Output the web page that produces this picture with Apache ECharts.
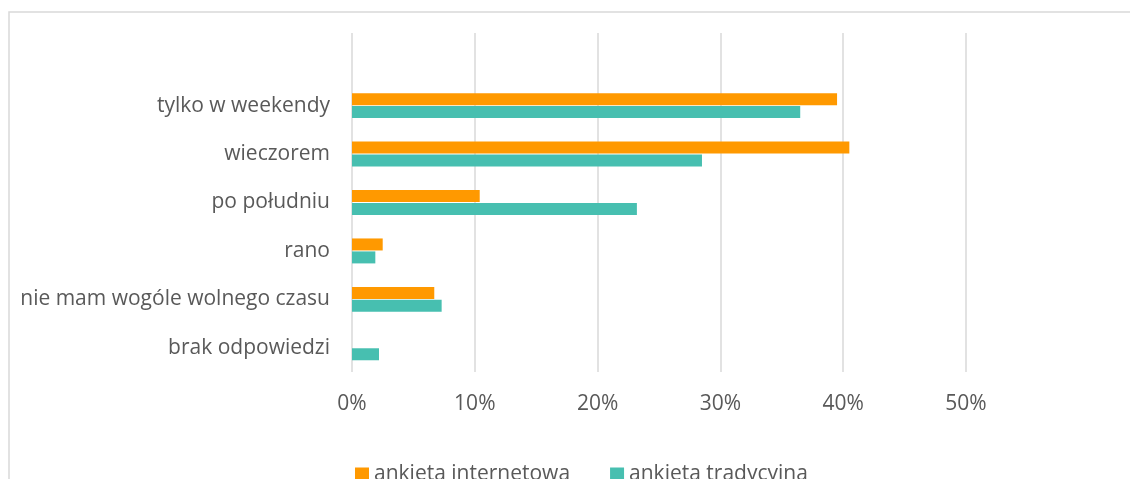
<!DOCTYPE html>
<html>
<head>
<meta charset="utf-8">
<script src="https://cdn.jsdelivr.net/npm/echarts@6/dist/echarts.min.js"></script>
<style>
  html, body { margin: 0; padding: 0; background: #fff; }
  #chart { width: 1130px; height: 479px; }
</style>
</head>
<body>
<div id="chart"></div>
<script>
  // top row is empty in the original sheet
  var categories = ['', 'tylko w weekendy', 'wieczorem', 'po południu', 'rano', 'nie mam wogóle wolnego czasu', 'brak odpowiedzi'];
  var internetowa = [null, 0.395, 0.405, 0.104, 0.025, 0.067, null];
  var tradycyjna = [null, 0.365, 0.285, 0.232, 0.019, 0.073, 0.022];
  var seriesNames = ['ankieta internetowa', 'ankieta tradycyjna'];

  var textColor = '#595959';
  var font = '"Open Sans", sans-serif';

  var myChart = echarts.init(document.getElementById('chart'));
  var option = {
    animation: false,
    textStyle: { fontFamily: font },
    graphic: [
      {
        type: 'rect',
        shape: { x: 9, y: 12, width: 1140, height: 480 },
        style: { fill: 'none', stroke: '#d9d9d9', lineWidth: 1.5 },
        silent: true
      }
    ],
    legend: {
      data: seriesNames,
      top: 459,
      left: 350,
      icon: 'rect',
      itemWidth: 14,
      itemHeight: 14,
      itemGap: 40,
      textStyle: { color: textColor, fontSize: 21, fontFamily: font }
    },
    grid: {
      left: 352,
      right: 164,
      top: 33,
      bottom: 107,
      containLabel: false
    },
    xAxis: {
      type: 'value',
      min: 0,
      max: 0.5,
      interval: 0.1,
      axisLine: { show: false },
      axisTick: { show: false },
      splitLine: { lineStyle: { color: '#d9d9d9', width: 1.5 } },
      axisLabel: {
        color: textColor,
        fontSize: 21,
        fontFamily: font,
        margin: 22,
        formatter: function (v) { return Math.round(v * 100) + '%'; }
      }
    },
    yAxis: {
      type: 'category',
      inverse: true,
      data: categories,
      axisLine: { show: false },
      axisTick: { show: false },
      axisLabel: { color: textColor, fontSize: 21, fontFamily: font, margin: 22 }
    },
    series: [
      {
        name: seriesNames[0],
        type: 'bar',
        data: internetowa,
        barWidth: 12,
        barGap: '8%',
        itemStyle: { color: '#ff9900' }
      },
      {
        name: seriesNames[1],
        type: 'bar',
        data: tradycyjna,
        barWidth: 12,
        barGap: '8%',
        itemStyle: { color: '#47bfb0' }
      }
    ]
  };
  myChart.setOption(option);
  window.addEventListener('resize', function () {
    myChart.resize();
  });
</script>
</body>
</html>
